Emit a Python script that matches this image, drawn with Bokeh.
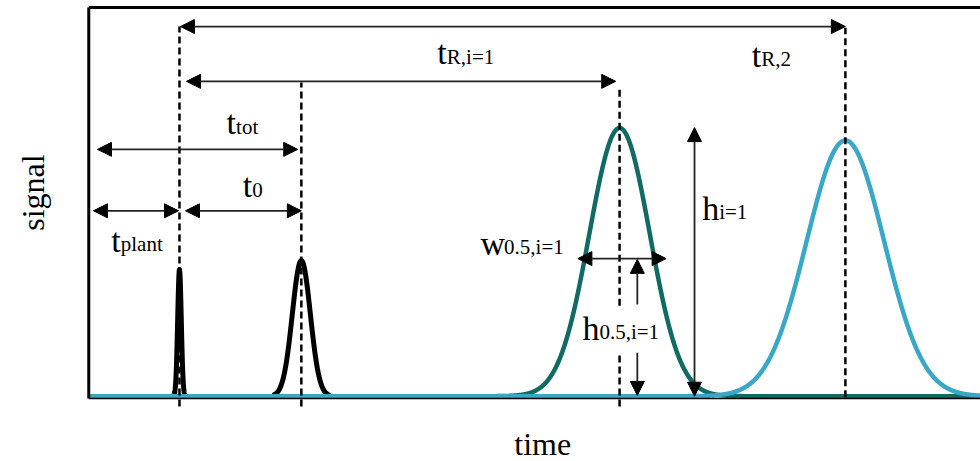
import numpy as np
from bokeh.plotting import figure
from bokeh.models import ColumnDataSource, Arrow, NormalHead, Range1d
from bokeh.core.properties import value
from bokeh.embed import file_html
from bokeh.resources import INLINE

# ---- data (time units / signal units) ----
peak_names = ["injection", "t0", "i=1", "2"]
peak_center = [10.07, 23.6, 58.93, 84.0]
peak_height = [32.6, 34.9, 69.0, 65.8]
peak_sigma = [0.2, 1.0, 3.35, 4.3]
peak_color = ["black", "black", "#0f6b63", "#3aa7c7"]

# vertical dashed markers: x, bottom, top
marker_x = [10.07, 23.6, 58.93, 58.93, 84.0]
marker_y0 = [-2.65, -2.65, 23.3, -2.65, -0.3]
marker_y1 = [95.1, 80.7, 79.2, 11.2, 94.8]

# double-headed dimension arrows
darrow_x0 = [10.18, 10.85, 0.97, 0.52, 10.74, 54.3, 67.25]
darrow_x1 = [84.0, 58.5, 23.2, 9.96, 23.6, 64.1, 67.25]
darrow_y0 = [95.1, 81.0, 63.5, 47.7, 47.7, 35.4, 0.0]
darrow_y1 = [95.1, 81.0, 63.5, 47.7, 47.7, 35.4, 69.1]

# single-headed arrows (half height)
sarrow_x0 = [60.9, 60.9]
sarrow_x1 = [60.9, 60.9]
sarrow_y0 = [23.6, 11.2]
sarrow_y1 = [35.2, 0.2]

# labels: main symbol + subscript
label_main = ["t", "t", "t", "t", "t", "w", "h", "h"]
label_sub = ["R,2", "R,i=1", "tot", "0", "plant", "0.5,i=1", "0.5,i=1", "i=1"]
label_x = [73.6, 38.7, 15.3, 17.1, 2.5, 43.5, 54.8, 68.1]
label_y = [87.7, 88.4, 70.4, 54.2, 40.1, 39.3, 17.5, 48.3]
label_dx = [9.5, 9.5, 9.5, 9.5, 9.5, 23.5, 17.0, 17.0]

x_label = "time"
y_label = "signal"

FONT = value("Liberation Serif")

p = figure(width=980, height=461, output_backend="svg", toolbar_location=None,
           x_axis_location=None, y_axis_location=None,
           x_range=Range1d(-9.8, 99.0), y_range=Range1d(-16.8, 101.8),
           min_border=0, outline_line_color=None, background_fill_color="white")
p.xgrid.visible = False
p.ygrid.visible = False

xs = np.linspace(0.0, 99.0, 8000)
for c, h, s, col in zip(peak_center, peak_height, peak_sigma, peak_color):
    if col == "black":
        m = np.abs(xs - c) < 3.2 * s
        xx = xs[m]
    else:
        xx = xs
    yy = h * np.exp(-0.5 * ((xx - c) / s) ** 2)
    lw = 5 if col == "black" else 4.5
    p.line(xx, yy, line_color=col, line_width=lw, line_join="round")

# dashed markers
p.segment(x0=marker_x, y0=marker_y0, x1=marker_x, y1=marker_y1,
          line_color="black", line_width=2.5, line_dash="7 4")

# frame lines (left, top, bottom)
p.segment(x0=[0, 0], y0=[-0.6, 100.0], x1=[0, 99.0], y1=[100.0, 100.0],
          line_color="black", line_width=3)
p.segment(x0=[0], y0=[-0.6], x1=[99.0], y1=[-0.6], line_color="black", line_width=1.5)

head = dict(size=14, fill_color="black", line_color="black")
dsrc = ColumnDataSource(dict(x0=darrow_x0, y0=darrow_y0, x1=darrow_x1, y1=darrow_y1))
p.add_layout(Arrow(start=NormalHead(**head), end=NormalHead(**head),
                   x_start="x0", y_start="y0", x_end="x1", y_end="y1", source=dsrc,
                   line_color="#222222", line_width=1.8))
ssrc = ColumnDataSource(dict(x0=sarrow_x0, y0=sarrow_y0, x1=sarrow_x1, y1=sarrow_y1))
p.add_layout(Arrow(end=NormalHead(**head),
                   x_start="x0", y_start="y0", x_end="x1", y_end="y1", source=ssrc,
                   line_color="#222222", line_width=1.8))

lsrc = ColumnDataSource(dict(x=label_x, y=label_y, main=label_main, sub=label_sub,
                             dx=label_dx))
p.text(x="x", y="y", text="main", source=lsrc, text_font=FONT,
       text_font_size=value("34px"), text_baseline="alphabetic", text_align="left",
       text_color="black")
p.text(x="x", y="y", text="sub", source=lsrc, text_font=FONT, x_offset="dx", y_offset=4,
       text_font_size=value("21px"), text_baseline="alphabetic", text_align="left",
       text_color="black")

# axis titles
p.text(x=[50.4], y=[-12.4], text=[x_label], text_font=FONT, text_font_size=value("32px"),
       text_baseline="alphabetic", text_align="center", text_color="black")
p.text(x=[-6.2], y=[52.4], text=[y_label], text_font=FONT, text_font_size=value("32px"),
       text_baseline="middle", text_align="center", angle=np.pi / 2, text_color="black")

open("out.html", "w").write(file_html(p, INLINE))
